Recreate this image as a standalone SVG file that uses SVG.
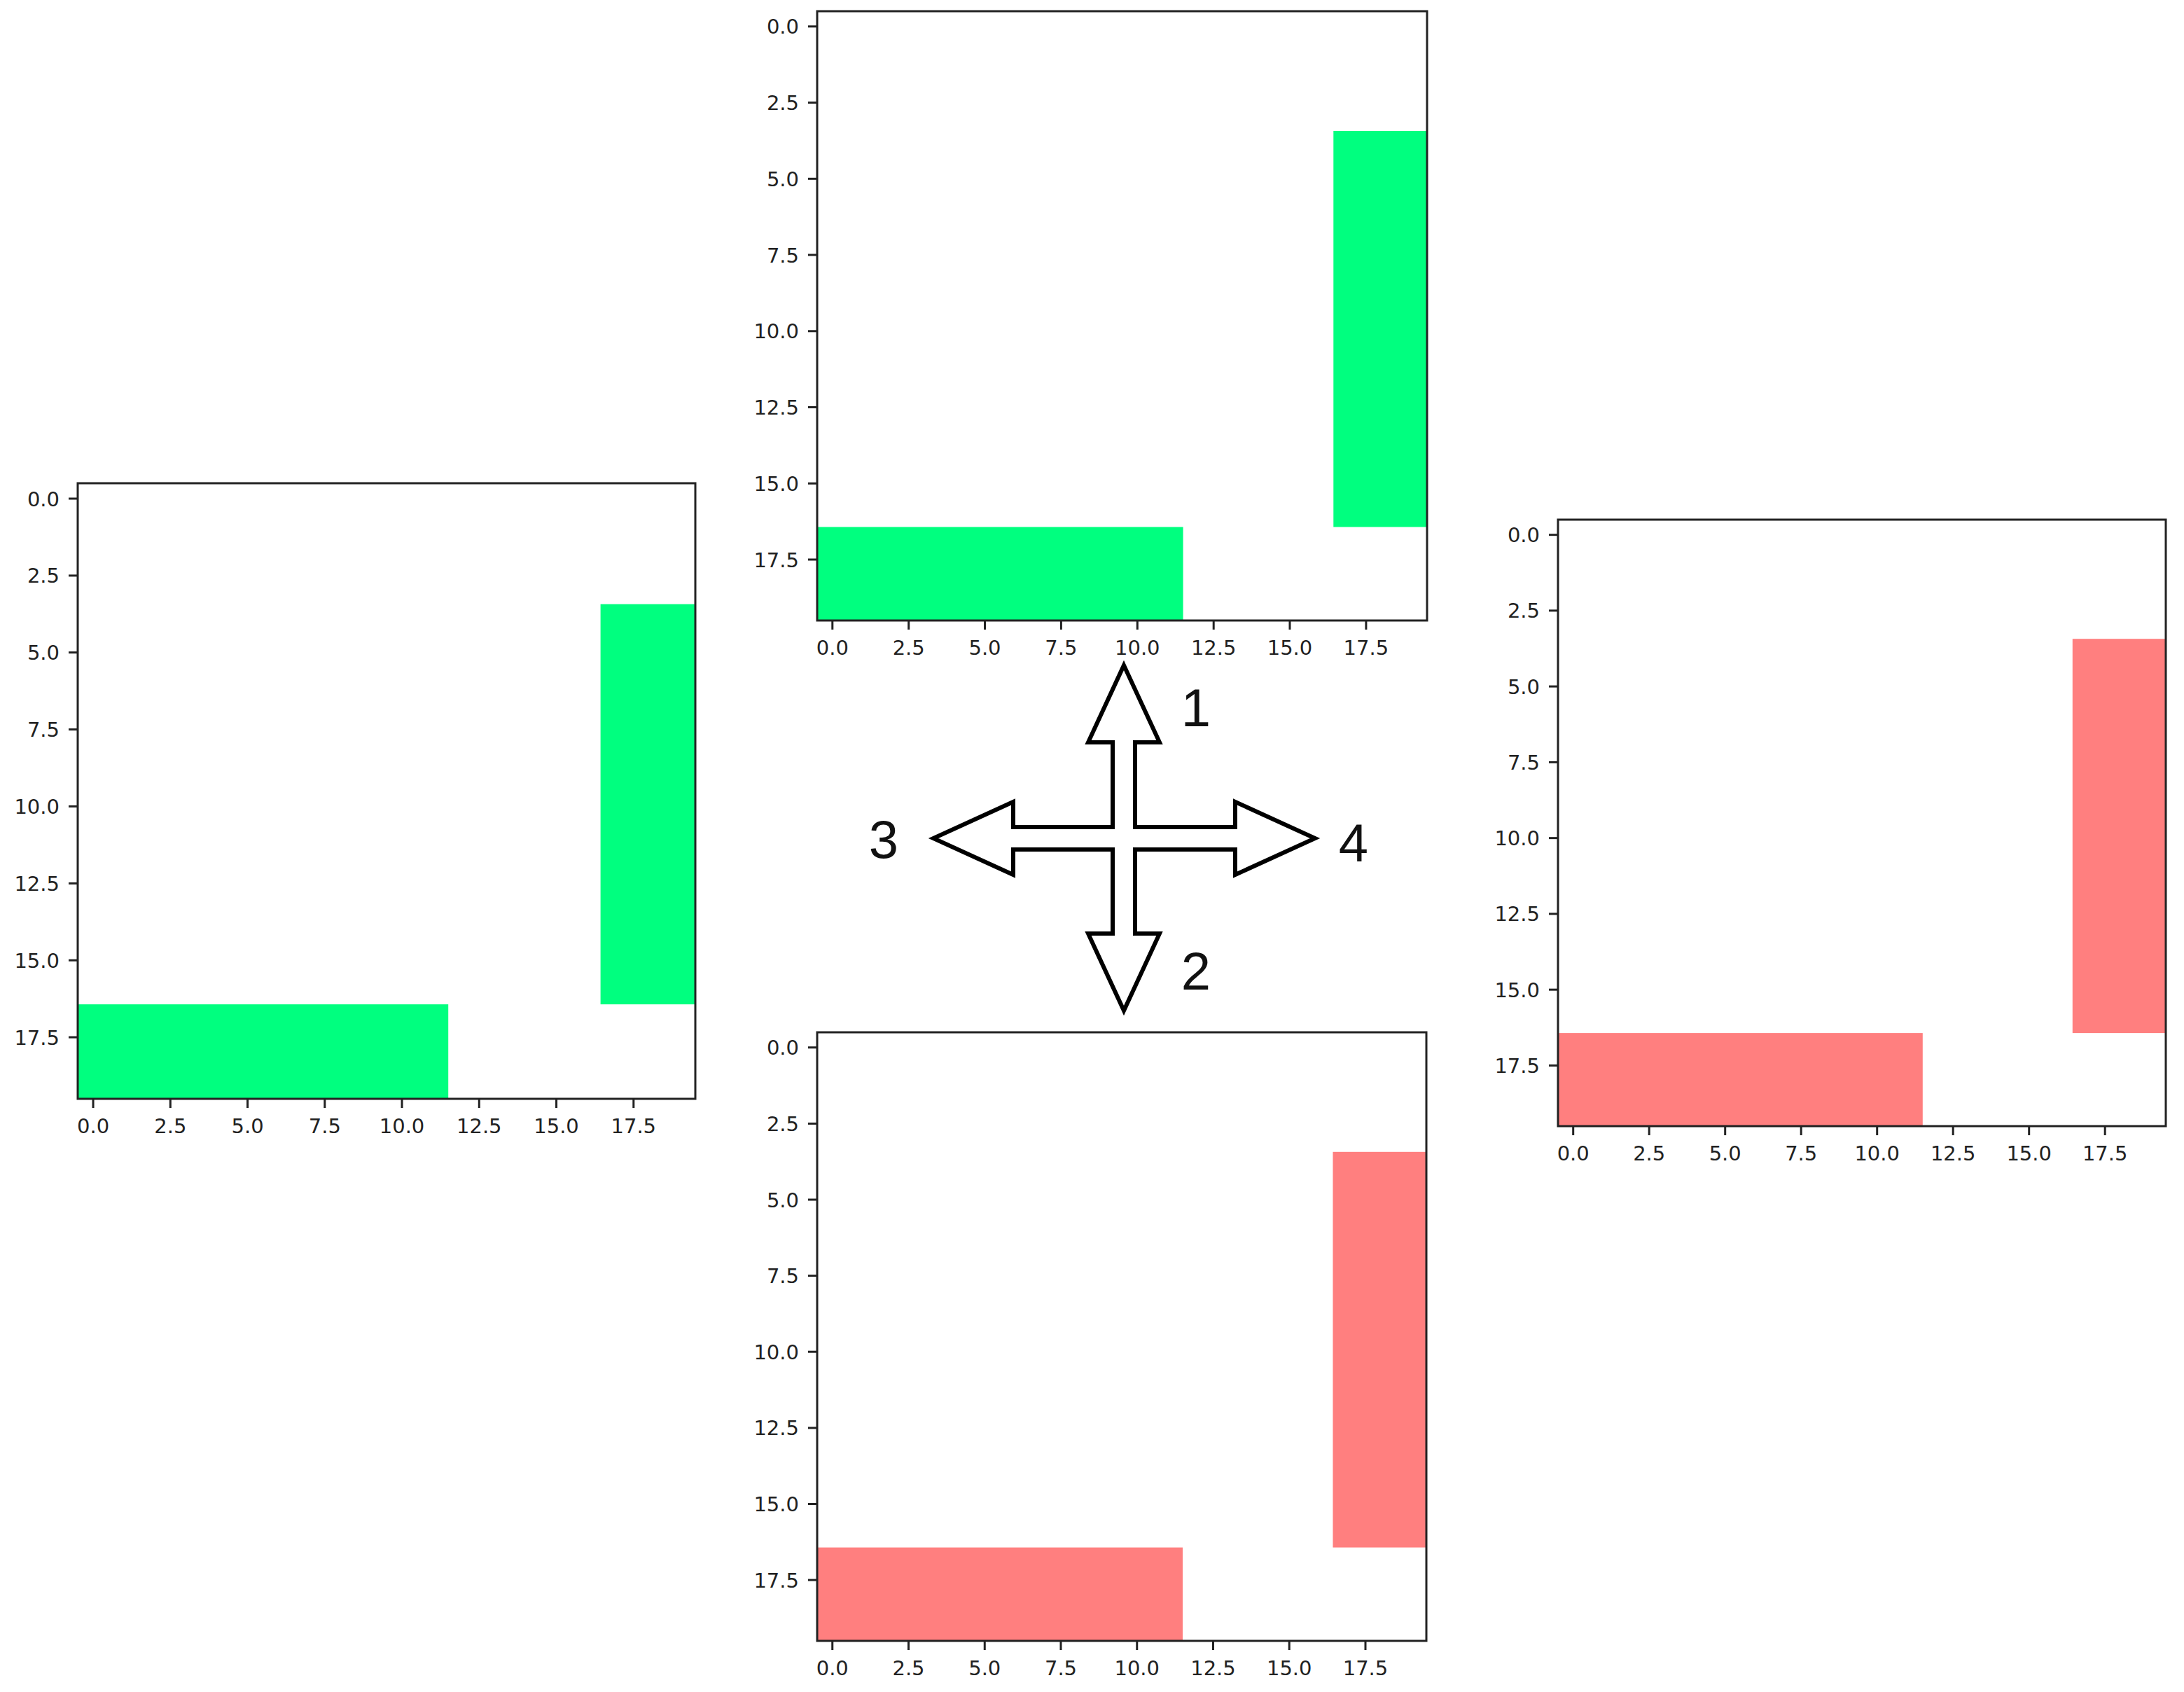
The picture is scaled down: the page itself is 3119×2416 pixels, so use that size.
<svg xmlns="http://www.w3.org/2000/svg" width="3119" height="2416" viewBox="0 0 3119 2416">
<style>
.frame{fill:none;stroke:#222;stroke-width:3}
.tick{stroke:#222;stroke-width:3}
.tl{font-family:"DejaVu Sans",sans-serif;font-size:29px;fill:#222}
.yl{text-anchor:end}
.xl{text-anchor:middle}
.g{fill:#00FF7F}
.r{fill:#FF7F7F}
.num{font-family:"Liberation Sans",Arial,sans-serif;font-size:76px;fill:#111;text-anchor:middle}
.cross{fill:#fff;stroke:#000;stroke-width:6;stroke-linejoin:miter}
</style>
<rect width="3119" height="2416" fill="#fff"/>

<!-- Plot 1 (top) -->
<g id="plot1" transform="translate(1167,16)">
<rect class="g" x="0" y="736.5" width="522.6" height="133.5"/>
<rect class="g" x="737.3" y="171" width="133.7" height="565.5"/>
<rect class="frame" x="0" y="0" width="871" height="870"/>
<g class="tick">
<line x1="-13" y1="21.8" x2="0" y2="21.8"/><line x1="-13" y1="130.5" x2="0" y2="130.5"/><line x1="-13" y1="239.3" x2="0" y2="239.3"/><line x1="-13" y1="348" x2="0" y2="348"/><line x1="-13" y1="456.8" x2="0" y2="456.8"/><line x1="-13" y1="565.5" x2="0" y2="565.5"/><line x1="-13" y1="674.3" x2="0" y2="674.3"/><line x1="-13" y1="783" x2="0" y2="783"/>
<line x1="21.8" y1="870" x2="21.8" y2="883"/><line x1="130.7" y1="870" x2="130.7" y2="883"/><line x1="239.5" y1="870" x2="239.5" y2="883"/><line x1="348.4" y1="870" x2="348.4" y2="883"/><line x1="457.3" y1="870" x2="457.3" y2="883"/><line x1="566.2" y1="870" x2="566.2" y2="883"/><line x1="675" y1="870" x2="675" y2="883"/><line x1="783.9" y1="870" x2="783.9" y2="883"/>
</g>
<g class="tl yl">
<text x="-26" y="32.3">0.0</text><text x="-26" y="141">2.5</text><text x="-26" y="249.8">5.0</text><text x="-26" y="358.5">7.5</text><text x="-26" y="467.3">10.0</text><text x="-26" y="576">12.5</text><text x="-26" y="684.8">15.0</text><text x="-26" y="793.5">17.5</text>
</g>
<g class="tl xl">
<text x="21.8" y="919">0.0</text><text x="130.7" y="919">2.5</text><text x="239.5" y="919">5.0</text><text x="348.4" y="919">7.5</text><text x="457.3" y="919">10.0</text><text x="566.2" y="919">12.5</text><text x="675" y="919">15.0</text><text x="783.9" y="919">17.5</text>
</g>
</g>

<!-- Plot 2 (bottom) -->
<g id="plot2" transform="translate(1167,1474)">
<rect class="r" x="0" y="735.6" width="522" height="133.4"/>
<rect class="r" x="736.5" y="170.8" width="133.5" height="564.8"/>
<rect class="frame" x="0" y="0" width="870" height="869"/>
<g class="tick">
<line x1="-13" y1="21.7" x2="0" y2="21.7"/><line x1="-13" y1="130.4" x2="0" y2="130.4"/><line x1="-13" y1="239" x2="0" y2="239"/><line x1="-13" y1="347.6" x2="0" y2="347.6"/><line x1="-13" y1="456.2" x2="0" y2="456.2"/><line x1="-13" y1="564.9" x2="0" y2="564.9"/><line x1="-13" y1="673.5" x2="0" y2="673.5"/><line x1="-13" y1="782.1" x2="0" y2="782.1"/>
<line x1="21.75" y1="869" x2="21.75" y2="882"/><line x1="130.5" y1="869" x2="130.5" y2="882"/><line x1="239.25" y1="869" x2="239.25" y2="882"/><line x1="348" y1="869" x2="348" y2="882"/><line x1="456.75" y1="869" x2="456.75" y2="882"/><line x1="565.5" y1="869" x2="565.5" y2="882"/><line x1="674.25" y1="869" x2="674.25" y2="882"/><line x1="783" y1="869" x2="783" y2="882"/>
</g>
<g class="tl yl">
<text x="-26" y="32.2">0.0</text><text x="-26" y="140.9">2.5</text><text x="-26" y="249.5">5.0</text><text x="-26" y="358.1">7.5</text><text x="-26" y="466.7">10.0</text><text x="-26" y="575.4">12.5</text><text x="-26" y="684">15.0</text><text x="-26" y="792.6">17.5</text>
</g>
<g class="tl xl">
<text x="21.75" y="918">0.0</text><text x="130.5" y="918">2.5</text><text x="239.25" y="918">5.0</text><text x="348" y="918">7.5</text><text x="456.75" y="918">10.0</text><text x="565.5" y="918">12.5</text><text x="674.25" y="918">15.0</text><text x="783" y="918">17.5</text>
</g>
</g>

<!-- Plot 3 (left) -->
<g id="plot3" transform="translate(111,690)">
<rect class="g" x="0" y="744.1" width="529.2" height="134.9"/>
<rect class="g" x="746.6" y="172.7" width="135.4" height="571.4"/>
<rect class="frame" x="0" y="0" width="882" height="879"/>
<g class="tick">
<line x1="-13" y1="22" x2="0" y2="22"/><line x1="-13" y1="131.9" x2="0" y2="131.9"/><line x1="-13" y1="241.7" x2="0" y2="241.7"/><line x1="-13" y1="351.6" x2="0" y2="351.6"/><line x1="-13" y1="461.5" x2="0" y2="461.5"/><line x1="-13" y1="571.4" x2="0" y2="571.4"/><line x1="-13" y1="681.2" x2="0" y2="681.2"/><line x1="-13" y1="791.1" x2="0" y2="791.1"/>
<line x1="22.05" y1="879" x2="22.05" y2="892"/><line x1="132.3" y1="879" x2="132.3" y2="892"/><line x1="242.55" y1="879" x2="242.55" y2="892"/><line x1="352.8" y1="879" x2="352.8" y2="892"/><line x1="463.05" y1="879" x2="463.05" y2="892"/><line x1="573.3" y1="879" x2="573.3" y2="892"/><line x1="683.55" y1="879" x2="683.55" y2="892"/><line x1="793.8" y1="879" x2="793.8" y2="892"/>
</g>
<g class="tl yl">
<text x="-26" y="32.5">0.0</text><text x="-26" y="142.4">2.5</text><text x="-26" y="252.2">5.0</text><text x="-26" y="362.1">7.5</text><text x="-26" y="472">10.0</text><text x="-26" y="581.9">12.5</text><text x="-26" y="691.7">15.0</text><text x="-26" y="801.6">17.5</text>
</g>
<g class="tl xl">
<text x="22.05" y="928">0.0</text><text x="132.3" y="928">2.5</text><text x="242.55" y="928">5.0</text><text x="352.8" y="928">7.5</text><text x="463.05" y="928">10.0</text><text x="573.3" y="928">12.5</text><text x="683.55" y="928">15.0</text><text x="793.8" y="928">17.5</text>
</g>
</g>

<!-- Plot 4 (right) -->
<g id="plot4" transform="translate(2225,742)">
<rect class="r" x="0" y="733.1" width="520.8" height="132.9"/>
<rect class="r" x="734.8" y="170.2" width="133.2" height="562.9"/>
<rect class="frame" x="0" y="0" width="868" height="866"/>
<g class="tick">
<line x1="-13" y1="21.65" x2="0" y2="21.65"/><line x1="-13" y1="129.9" x2="0" y2="129.9"/><line x1="-13" y1="238.15" x2="0" y2="238.15"/><line x1="-13" y1="346.4" x2="0" y2="346.4"/><line x1="-13" y1="454.65" x2="0" y2="454.65"/><line x1="-13" y1="562.9" x2="0" y2="562.9"/><line x1="-13" y1="671.15" x2="0" y2="671.15"/><line x1="-13" y1="779.4" x2="0" y2="779.4"/>
<line x1="21.7" y1="866" x2="21.7" y2="879"/><line x1="130.2" y1="866" x2="130.2" y2="879"/><line x1="238.7" y1="866" x2="238.7" y2="879"/><line x1="347.2" y1="866" x2="347.2" y2="879"/><line x1="455.7" y1="866" x2="455.7" y2="879"/><line x1="564.2" y1="866" x2="564.2" y2="879"/><line x1="672.7" y1="866" x2="672.7" y2="879"/><line x1="781.2" y1="866" x2="781.2" y2="879"/>
</g>
<g class="tl yl">
<text x="-26" y="32.2">0.0</text><text x="-26" y="140.4">2.5</text><text x="-26" y="248.7">5.0</text><text x="-26" y="356.9">7.5</text><text x="-26" y="465.2">10.0</text><text x="-26" y="573.4">12.5</text><text x="-26" y="681.7">15.0</text><text x="-26" y="789.9">17.5</text>
</g>
<g class="tl xl">
<text x="21.7" y="915">0.0</text><text x="130.2" y="915">2.5</text><text x="238.7" y="915">5.0</text><text x="347.2" y="915">7.5</text><text x="455.7" y="915">10.0</text><text x="564.2" y="915">12.5</text><text x="672.7" y="915">15.0</text><text x="781.2" y="915">17.5</text>
</g>
</g>

<!-- Connectors: four-way arrow -->
<g id="connectors">
<polygon class="cross" points="1605,950 1656,1060 1621,1060 1621,1181 1764,1181 1764,1145 1878,1197 1764,1249 1764,1213 1621,1213 1621,1333 1656,1333 1605,1443 1554,1333 1589,1333 1589,1213 1447,1213 1447,1249 1333,1197 1447,1145 1447,1181 1589,1181 1589,1060 1554,1060"/>
<text class="num" x="1708" y="1037">1</text>
<text class="num" x="1708" y="1413">2</text>
<text class="num" x="1262" y="1225">3</text>
<text class="num" x="1933" y="1230">4</text>
</g>
</svg>
